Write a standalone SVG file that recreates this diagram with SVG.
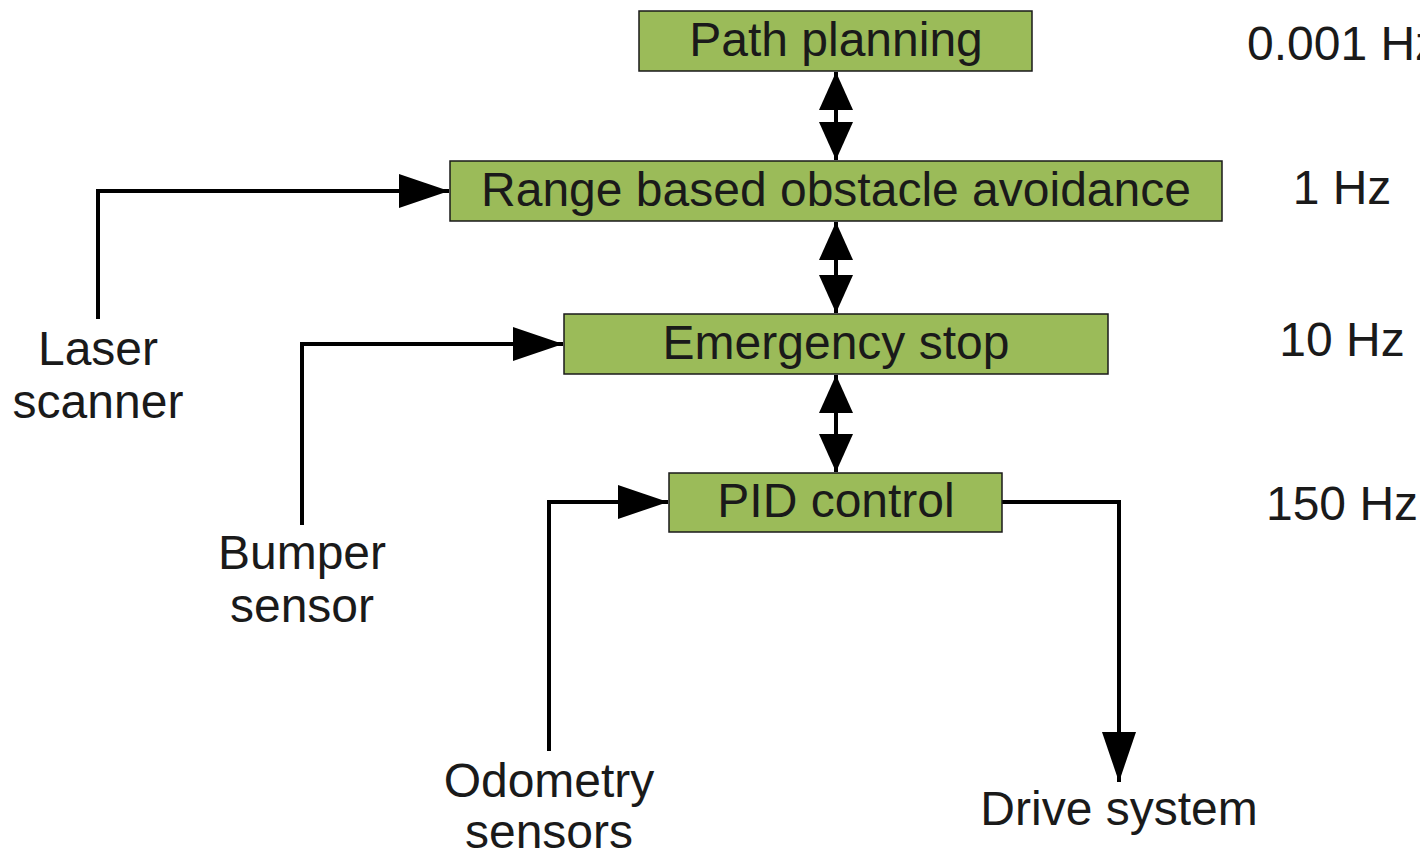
<svg xmlns="http://www.w3.org/2000/svg" width="1420" height="853" viewBox="0 0 1420 853">
  <style>
    .box { fill: #9bbb59; stroke: #1a1a1a; stroke-width: 1.5; }
    .lbl { font-family: "Liberation Sans", Arial, sans-serif; font-size: 48px; fill: #1a1a1a; text-anchor: middle; }
    .wire { fill: none; stroke: #000; stroke-width: 4; }
  </style>
  <defs>
    <marker id="headV" viewBox="0 0 38 34" refX="38" refY="17" markerWidth="38" markerHeight="34" markerUnits="userSpaceOnUse" orient="auto-start-reverse">
      <path d="M0,0 L38,17 L0,34 Z" fill="#000"/>
    </marker>
    <marker id="headH" viewBox="0 0 50 34" refX="50" refY="17" markerWidth="50" markerHeight="34" markerUnits="userSpaceOnUse" orient="auto">
      <path d="M0,0 L50,17 L0,34 Z" fill="#000"/>
    </marker>
  </defs>

  <!-- connectors -->
  <g id="connectors">
    <line class="wire" x1="836" y1="72" x2="836" y2="160" marker-start="url(#headV)" marker-end="url(#headV)"/>
    <line class="wire" x1="836" y1="222" x2="836" y2="313" marker-start="url(#headV)" marker-end="url(#headV)"/>
    <line class="wire" x1="836" y1="375" x2="836" y2="472" marker-start="url(#headV)" marker-end="url(#headV)"/>
    <polyline class="wire" points="98,319 98,191 449,191" marker-end="url(#headH)"/>
    <polyline class="wire" points="302,525 302,344 563,344" marker-end="url(#headH)"/>
    <polyline class="wire" points="549,751 549,502 668,502" marker-end="url(#headH)"/>
    <polyline class="wire" points="1002,502 1119,502 1119,782" marker-end="url(#headH)"/>
  </g>

  <g id="path-planning">
    <rect class="box" x="639" y="11" width="393" height="60"/>
    <text class="lbl" x="836" y="56">Path planning</text>
  </g>
  <g id="obstacle-avoidance">
    <rect class="box" x="450" y="161" width="772" height="60"/>
    <text class="lbl" x="836" y="206">Range based obstacle avoidance</text>
  </g>
  <g id="emergency-stop">
    <rect class="box" x="564" y="314" width="544" height="60"/>
    <text class="lbl" x="836" y="359">Emergency stop</text>
  </g>
  <g id="pid-control">
    <rect class="box" x="669" y="473" width="333" height="59"/>
    <text class="lbl" x="836" y="517">PID control</text>
  </g>

  <g id="laser-scanner">
    <text class="lbl" x="98" y="365">Laser</text>
    <text class="lbl" x="98" y="418">scanner</text>
  </g>
  <g id="bumper-sensor">
    <text class="lbl" x="302" y="569">Bumper</text>
    <text class="lbl" x="302" y="622">sensor</text>
  </g>
  <g id="odometry-sensors">
    <text class="lbl" x="549" y="797">Odometry</text>
    <text class="lbl" x="549" y="848">sensors</text>
  </g>
  <g id="drive-system">
    <text class="lbl" x="1119" y="825">Drive system</text>
  </g>

  <g id="rates">
    <text class="lbl" x="1247" y="60" style="text-anchor:start">0.001 Hz</text>
    <text class="lbl" x="1342" y="204">1 Hz</text>
    <text class="lbl" x="1342" y="356">10 Hz</text>
    <text class="lbl" x="1342" y="520">150 Hz</text>
  </g>
</svg>
